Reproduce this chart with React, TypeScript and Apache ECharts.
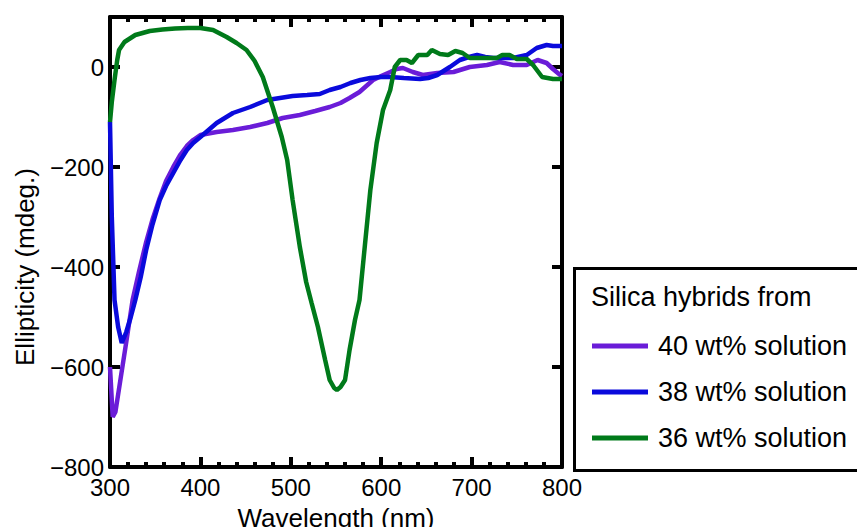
import React, { useEffect, useRef } from "react";
import * as echarts from "echarts";

const FONT = "'Liberation Sans', Arial, Helvetica, sans-serif";

const seriesNames = ["40 wt% solution", "38 wt% solution", "36 wt% solution"];
const seriesColors = ["#6a1cd8", "#0a0adc", "#007a1a"];
const legendTitle = "Silica hybrids from";
const xTickValues = [300, 400, 500, 600, 700, 800];
const yTickValues = [-800, -600, -400, -200, 0];

// 40 wt% solution (purple)
const wl40 = [300, 303, 306, 312, 318, 325, 332, 340, 347, 355, 362, 370, 378, 385, 392, 400, 418, 436, 455, 474, 491, 510, 527, 543, 555, 565, 576, 591, 600, 610, 617, 624, 635, 646, 662, 680, 698, 717, 731, 746, 761, 773, 783, 790, 798, 800];
const val40 = [-600, -700, -690, -620, -550, -466, -410, -350, -305, -262, -228, -200, -175, -158, -146, -136, -130, -126, -120, -112, -102, -96, -88, -80, -72, -62, -50, -26, -18, -10, -4, -2, -10, -16, -12, -10, 0, 4, 10, 4, 4, 14, 8, -4, -16, -18];

// 38 wt% solution (blue)
const wl38 = [300, 302, 305, 309, 313, 318, 323, 328, 334, 340, 347, 355, 362, 370, 378, 385, 392, 400, 418, 436, 455, 474, 488, 502, 518, 532, 543, 555, 566, 577, 588, 600, 610, 625, 643, 652, 662, 676, 687, 697, 706, 715, 724, 735, 746, 761, 772, 783, 790, 800];
const val38 = [-110, -300, -466, -520, -552, -530, -500, -466, -420, -366, -315, -266, -238, -212, -186, -166, -152, -140, -112, -92, -80, -66, -62, -58, -56, -54, -46, -40, -32, -26, -22, -20, -20, -22, -24, -22, -16, 0, 14, 20, 24, 20, 18, 18, 18, 24, 38, 44, 42, 42];

// 36 wt% solution (green)
const wl36 = [300, 302, 305, 308, 310, 316, 328, 344, 358, 372, 386, 400, 414, 429, 440, 451, 460, 469, 480, 490, 496, 502, 510, 517, 523, 530, 538, 543, 548, 551, 555, 560, 565, 571, 576, 582, 588, 595, 602, 610, 615, 621, 628, 634, 641, 651, 656, 665, 674, 682, 690, 698, 713, 728, 734, 742, 750, 761, 768, 778, 790, 800];
const val36 = [-110, -70, -26, 14, 34, 50, 64, 72, 75, 77, 78, 78, 74, 60, 48, 34, 12, -20, -80, -140, -186, -266, -360, -430, -472, -520, -586, -626, -642, -646, -640, -626, -566, -506, -466, -356, -246, -152, -86, -46, 0, 14, 14, 8, 24, 24, 34, 26, 24, 32, 28, 18, 18, 18, 24, 24, 16, 16, 4, -20, -24, -24];

const zip = (xs: number[], ys: number[]) => xs.map((x, i) => [x, ys[i]]);
const minus = (v: number) => String(v).replace("-", "\u2212");

export default function App() {
  const ref = useRef<HTMLDivElement>(null);

  useEffect(() => {
    if (!ref.current) return;
    const chart = echarts.init(ref.current, null, { renderer: "svg" });

    const axisLine = { show: true, onZero: false, lineStyle: { color: "#000", width: 4 } };
    const majorTick = { show: true, inside: true, length: 10, lineStyle: { color: "#000", width: 4 } };

    const xCommon = {
      type: "value",
      min: 300,
      max: 800,
      interval: 100,
      axisLine,
      splitLine: { show: false },
      minorTick: { show: true, splitNumber: 5, length: 5, lineStyle: { color: "#000", width: 4 } },
      minorSplitLine: { show: false },
    };
    const yCommon = {
      type: "value",
      min: -800,
      max: 100,
      axisLine,
      splitLine: { show: false },
    };

    const dataSets = [zip(wl40, val40), zip(wl38, val38), zip(wl36, val36)];

    chart.setOption({
      animation: false,
      backgroundColor: "#fff",
      textStyle: { fontFamily: FONT },
      grid: { left: 110, right: 295, top: 17, bottom: 60, containLabel: false, outerBoundsMode: "none" },
      xAxis: [
        {
          ...xCommon,
          position: "bottom",
          name: "Wavelength (nm)",
          nameLocation: "middle",
          nameGap: 31,
          nameTextStyle: { fontSize: 26, color: "#000", fontFamily: FONT, lineHeight: 28 },
          axisTick: { ...majorTick, customValues: xTickValues },
          axisLabel: { show: true, margin: 8, fontSize: 24, color: "#000", fontFamily: FONT, customValues: xTickValues },
        },
        {
          ...xCommon,
          position: "top",
          axisTick: { ...majorTick },
          axisLabel: { show: false },
        },
      ],
      yAxis: [
        {
          ...yCommon,
          position: "left",
          name: "Ellipticity (mdeg.)",
          nameLocation: "middle",
          nameGap: 72,
          nameRotate: 90,
          nameTextStyle: { fontSize: 26, color: "#000", fontFamily: FONT, padding: [0, 50, 0, 0] },
          axisTick: { ...majorTick, customValues: yTickValues },
          axisLabel: { show: true, margin: 6, fontSize: 24, color: "#000", fontFamily: FONT, customValues: yTickValues, formatter: (v: number) => minus(v) },
        },
        {
          ...yCommon,
          position: "right",
          axisTick: { ...majorTick, customValues: yTickValues },
          axisLabel: { show: false },
        },
      ],
      legend: {
        show: true,
        orient: "vertical",
        left: 592,
        top: 331,
        padding: 0,
        itemWidth: 56,
        itemHeight: 5,
        itemGap: 16,
        icon: "rect",
        data: seriesNames,
        textStyle: { fontSize: 27, color: "#000", fontFamily: FONT, lineHeight: 30, padding: [0, 0, 0, 5] },
        selectedMode: false,
      },
      graphic: [
        {
          type: "rect",
          left: 573,
          top: 267,
          shape: { width: 300, height: 202 },
          style: { fill: "#fff", stroke: "#000", lineWidth: 3 },
          z: 0,
          silent: true,
        },
        {
          type: "text",
          x: 591,
          y: 297,
          style: { text: legendTitle, fontSize: 27, fill: "#000", fontFamily: FONT, verticalAlign: "middle", align: "left" },
          z: 10,
          silent: true,
        },
      ],
      series: seriesNames.map((name, i) => ({
        name,
        type: "line",
        data: dataSets[i],
        showSymbol: false,
        symbol: "none",
        smooth: false,
        clip: true,
        color: seriesColors[i],
        lineStyle: { color: seriesColors[i], width: 4.5 },
        z: 2 + i,
      })),
    });

    return () => chart.dispose();
  }, []);

  return <div ref={ref} style={{ position: "fixed", left: 0, top: 0, width: 857, height: 527 }} />;
}
